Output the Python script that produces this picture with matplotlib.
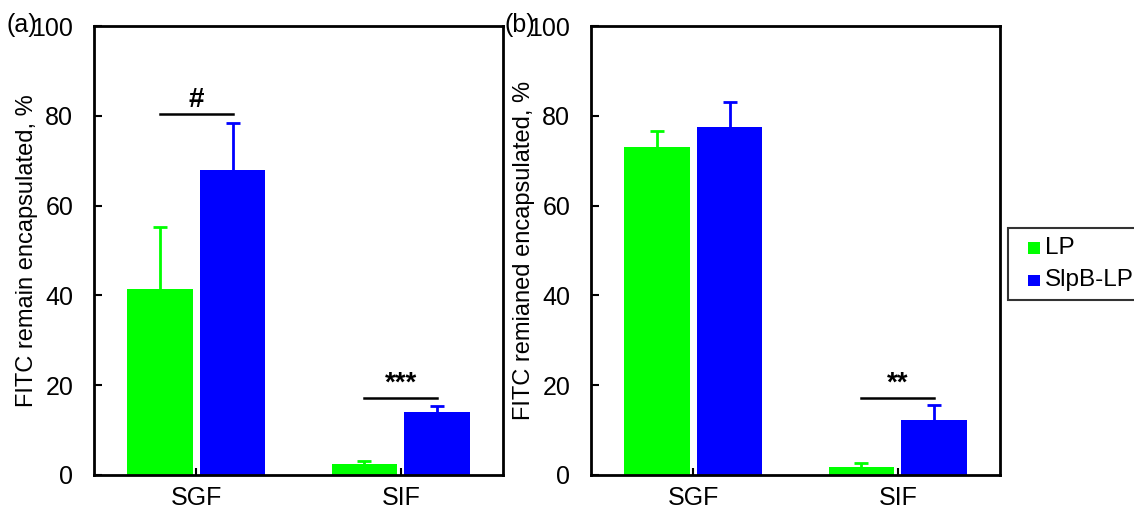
import matplotlib
matplotlib.use("Agg")
from matplotlib import pyplot as plt
from matplotlib.patches import Rectangle
from matplotlib.legend_handler import HandlerPatch
import numpy as np

plt.rcParams['font.family'] = ['Liberation Sans', 'DejaVu Sans']

groups = ["SGF", "SIF"]
series = ["LP", "SlpB-LP"]
colors = ["#00ff00", "#0000ff"]

# panel (a): FITC remain encapsulated, %
a_lp = [41.5, 2.5]
a_lp_err = [13.8, 0.6]
a_slpb = [68.0, 14.0]
a_slpb_err = [10.5, 1.4]

# panel (b): FITC remianed encapsulated, %
b_lp = [73.0, 1.7]
b_lp_err = [3.7, 1.0]
b_slpb = [77.5, 12.3]
b_slpb_err = [5.5, 3.2]

# significance marks: (group index, line height, label)
a_sig = [(0, 80.4, "#"), (1, 17.2, "***")]
b_sig = [(1, 17.2, "**")]

FS = 18

fig = plt.figure(figsize=(11.34, 5.13), dpi=100)
ax1 = fig.add_axes([0.0829, 0.0741, 0.3607, 0.8752])
ax2 = fig.add_axes([0.5212, 0.0741, 0.3607, 0.8752])

w = 0.32
off = 0.178
x = np.arange(len(groups))


def draw(ax, lp, lp_err, slpb, slpb_err, sig, ylabel):
    for vals, errs, c, sgn, name in [(lp, lp_err, colors[0], -1, series[0]),
                                     (slpb, slpb_err, colors[1], 1, series[1])]:
        ax.bar(x + sgn * off, vals, w, color=c, label=name, zorder=2)
        eb = ax.errorbar(x + sgn * off, vals, yerr=[np.zeros(len(errs)), errs],
                         fmt='none', ecolor=c, elinewidth=2, capsize=5, capthick=2, zorder=3)
        # one-sided bars: hide the cap sitting on the bar top
        eb[1][0].set_visible(False)
    for gi, h, txt in sig:
        ax.plot([gi - off, gi + off], [h, h], color='black', lw=1.8)
        ax.text(gi, h + 0.2, txt, ha='center', va='bottom', fontsize=20, fontweight='bold')
    ax.set_xlim(-0.5, 1.5)
    ax.set_ylim(0, 100)
    ax.set_yticks(range(0, 101, 20))
    ax.set_xticks(x)
    ax.set_xticklabels(groups)
    ax.tick_params(axis='y', direction='in', length=6, width=1.5, labelsize=FS, pad=15)
    ax.tick_params(axis='x', direction='in', length=5, width=1.5, labelsize=FS, pad=8)
    for s in ax.spines.values():
        s.set_linewidth(2)
    ax.set_ylabel(ylabel, fontsize=17)
    ax.yaxis.set_label_coords(-0.137, 0.5)


draw(ax1, a_lp, a_lp_err, a_slpb, a_slpb_err, a_sig, "FITC remain encapsulated, %")
draw(ax2, b_lp, b_lp_err, b_slpb, b_slpb_err, b_sig, "FITC remianed encapsulated, %")

fig.text(0.006, 0.951, "(a)", fontsize=FS, va='center')
fig.text(0.445, 0.951, "(b)", fontsize=FS, va='center')


# small square sitting on the text baseline at the right end of the handle box
def square(legend, orig_handle, xdescent, ydescent, width, height, fontsize):
    s = 8.6
    return Rectangle((-xdescent + width - s, 0), s, s)


containers, labels = ax1.get_legend_handles_labels()
handles = [c.patches[0] for c in containers]
leg = fig.legend(handles, labels, loc='upper left', bbox_to_anchor=(1008 / 1134, 1 - 228 / 513),
                 fontsize=17.5, frameon=True, fancybox=False, handlelength=0.97, handleheight=0.7,
                 handletextpad=0.2, borderpad=0.35, labelspacing=0.45, borderaxespad=0,
                 handler_map={Rectangle: HandlerPatch(patch_func=square)})
leg.get_frame().set_edgecolor('black')
leg.get_frame().set_linewidth(1.5)

fig.savefig("out.png", dpi=100)
